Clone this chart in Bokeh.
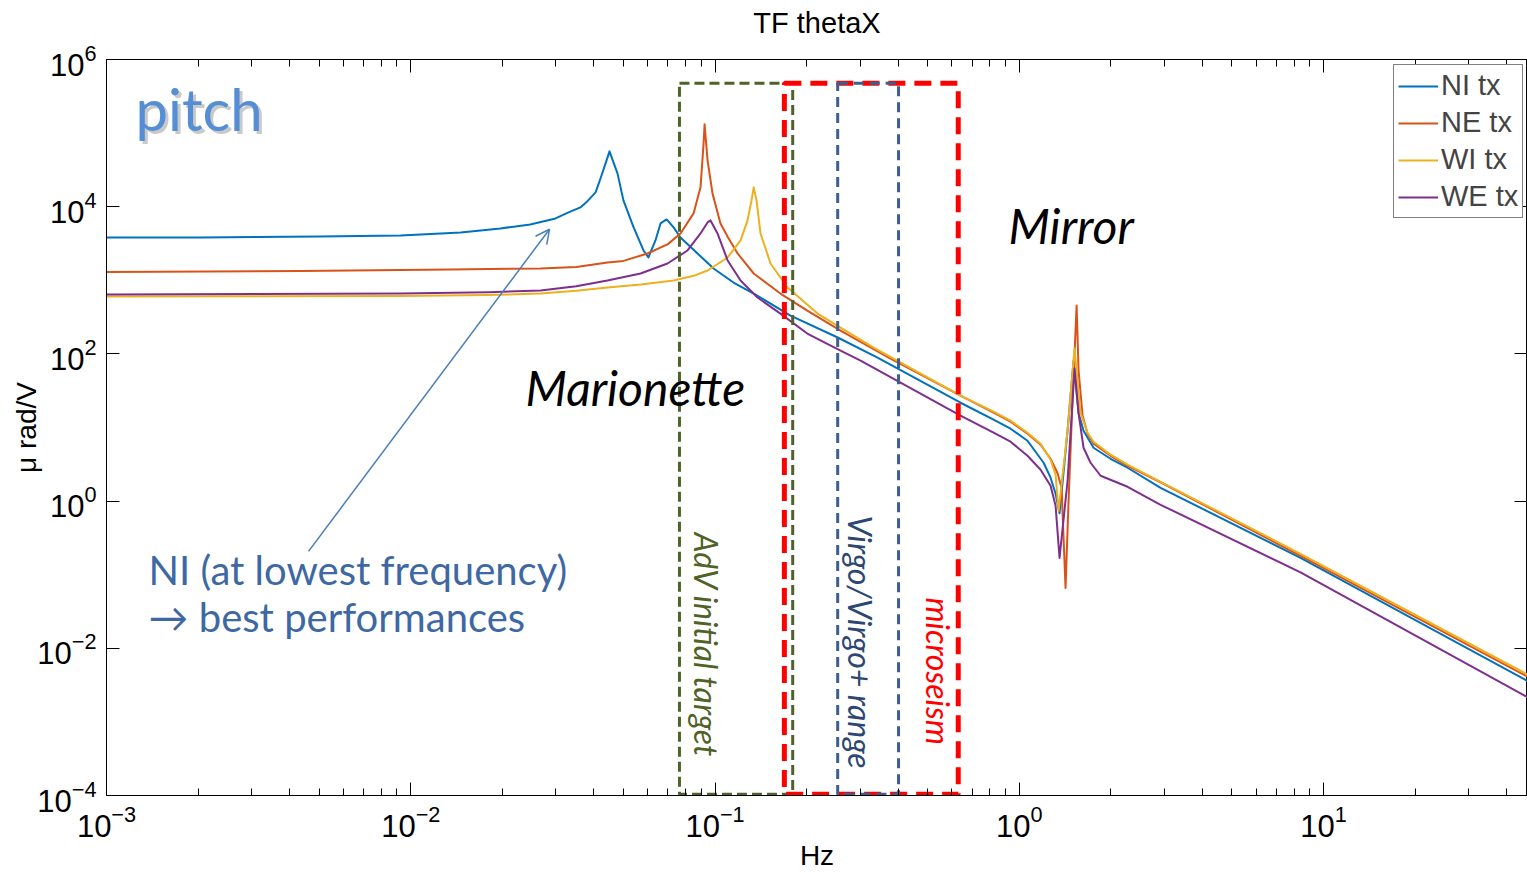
import math
from bokeh.plotting import figure
from bokeh.models import (LogAxis, FixedTicker, Label, Arrow, OpenHead, Legend, LegendItem)
from bokeh.embed import file_html
from bokeh.resources import INLINE

# ---------------- data ----------------
series_names = ["NI tx", "NE tx", "WI tx", "WE tx"]
series_colors = ["#0072BD", "#D95319", "#EDB120", "#7E2F8E"]

ni_f = [1e-3, 2.04e-3, 5.0e-3, 9.25e-3, 1.46e-2, 1.97e-2, 2.47e-2, 2.99e-2, 3.30e-2, 3.61e-2,
        3.80e-2, 4.05e-2, 4.20e-2, 4.40e-2, 4.50e-2, 4.65e-2, 4.78e-2, 5.00e-2, 5.40e-2, 5.82e-2,
        6.04e-2, 6.37e-2, 6.62e-2, 6.93e-2, 7.31e-2, 7.70e-2, 8.76e-2, 9.89e-2, 0.115, 0.134,
        0.177, 0.253, 0.342, 0.641, 0.823, 0.936, 1.064, 1.202, 1.267, 1.316,
        1.356, 1.441, 1.508, 1.566, 1.626, 1.754, 1.994, 2.269, 2.913, 8.40, 46.8]
ni_v = [3822, 3822, 3944, 4069, 4470, 5069, 5743, 6931, 8363, 9784,
        11800, 15650, 24000, 42650, 56540, 38800, 28390, 12180, 5229, 2543,
        2043, 3479, 5928, 6718, 5229, 3822, 2315, 1447, 933, 661,
        332, 167, 89.1, 21.7, 12.8, 9.63, 6.61, 3.32, 2.08, 1.257,
        0.682, 9.05, 81.1, 15.65, 9.05, 5.31, 3.76, 2.84, 1.517, 0.169, 3.59e-3]

ne_f = [1e-3, 4.34e-3, 1.35e-2, 2.67e-2, 3.50e-2, 4.43e-2, 5.00e-2, 6.00e-2, 7.00e-2, 7.70e-2,
        8.50e-2, 8.96e-2, 9.17e-2, 9.24e-2, 9.45e-2, 9.81e-2, 0.1042, 0.110, 0.1186, 0.134,
        0.164, 0.201, 0.2585, 0.3774, 0.641, 0.823, 0.936, 1.064, 1.175, 1.267,
        1.336, 1.377, 1.419, 1.452, 1.496, 1.543, 1.566, 1.614, 1.676, 1.754,
        1.994, 2.269, 2.913, 8.40, 46.8]
ne_v = [1297, 1338, 1403, 1447, 1514, 1747, 1834, 2315, 3100, 4331,
        8105, 18310, 72640, 131700, 42650, 15170, 5928, 3900, 2315, 1237,
        661, 388, 207.5, 86.3, 27.1, 15.9, 12.0, 8.23, 5.83, 3.76,
        2.39, 1.517, 0.0661, 1.025, 23.1, 454, 59.3, 14.5, 8.23, 6.02,
        4.13, 3.02, 1.803, 0.180, 4.13e-3]

wi_f = [1e-3, 9.25e-3, 1.8e-2, 2.67e-2, 3.5e-2, 4.43e-2, 5.7e-2, 7.31e-2, 8.5e-2, 9.45e-2,
        0.110, 0.1213, 0.1279, 0.1318, 0.134, 0.1369, 0.1411, 0.1522, 0.1731, 0.2173,
        0.2585, 0.332, 0.386, 0.641, 0.823, 0.936, 1.064, 1.175, 1.267, 1.316,
        1.346, 1.441, 1.519, 1.590, 1.676, 1.754, 1.994, 2.269, 2.913, 8.40, 46.8]
wi_v = [602, 611, 630, 661, 720, 798, 880, 994, 1150, 1359,
        2043, 3479, 6510, 12180, 18310, 12180, 4331, 1693, 798, 353,
        228, 121.8, 86.3, 27.1, 16.4, 12.4, 8.50, 6.02, 3.65, 2.28,
        0.738, 9.05, 118.1, 15.65, 8.50, 6.41, 4.27, 3.12, 1.830, 0.192, 4.40e-3]

we_f = [1e-3, 9.25e-3, 1.8e-2, 2.67e-2, 3.5e-2, 4.43e-2, 5.69e-2, 6.98e-2, 8.12e-2, 8.96e-2,
        9.45e-2, 9.665e-2, 0.1019, 0.110, 0.1213, 0.1379, 0.164, 0.201, 0.2585, 0.3008,
        0.641, 0.823, 0.936, 1.064, 1.175, 1.267, 1.316, 1.356, 1.441, 1.519,
        1.566, 1.626, 1.715, 1.850, 2.269, 2.913, 8.40, 46.8]
we_v = [641, 661, 690, 726, 830, 994, 1237, 1693, 2543, 4331,
        6114, 6510, 4331, 1859, 994, 583, 353, 188.9, 110.9, 81.1,
        14.5, 8.50, 6.41, 4.13, 2.67, 1.615, 0.863, 0.169, 1.889, 63.1,
        15.65, 5.31, 3.32, 2.21, 1.566, 0.891, 0.1075, 2.17e-3]

# frequency bands (Hz): AdV initial target, microseism, Virgo/Virgo+ range
band_labels = ["AdV initial target", "microseism", "Virgo/Virgo+ range"]
band_lo = [0.0764, 0.169, 0.253]
band_hi = [0.180, 0.630, 0.401]
band_top = [4.76e5, 4.76e5, 4.76e5]
band_bottom = [1.04e-4, 1.04e-4, 1.04e-4]

x_major = [1e-3, 1e-2, 1e-1, 1e0, 1e1]
y_major = [1e-4, 1e-2, 1e0, 1e2, 1e4, 1e6]

# ---------------- figure ----------------
X0, X1 = 1e-3, 46.8
Y0, Y1 = 1e-4, 1e6
FL, FR, FT, FB = 106, 1527, 59.3, 795


def fx(px):
    return 10 ** (math.log10(X0) + (px - FL) / (FR - FL) * math.log10(X1 / X0))


def fy(py):
    return 10 ** (math.log10(Y1) - (py - FT) / (FB - FT) * math.log10(Y1 / Y0))


p = figure(width=1527, height=874, x_axis_type="log", y_axis_type="log",
           x_range=(X0, X1), y_range=(Y0, Y1), output_backend="svg",
           toolbar_location=None, min_border_left=106, min_border_right=0,
           min_border_top=59, min_border_bottom=79)
p.grid.visible = False
p.outline_line_color = "black"
p.outline_line_width = 1
p.background_fill_color = "white"
p.border_fill_color = "white"

minor_x = [m * 10.0 ** e for e in range(-3, 2) for m in range(2, 10)]
FONT = "Liberation Sans"

for ax in p.xaxis:
    ax.ticker = FixedTicker(ticks=x_major, minor_ticks=minor_x)
for ax in p.yaxis:
    ax.ticker = FixedTicker(ticks=y_major, minor_ticks=[])

for ax in list(p.xaxis) + list(p.yaxis):
    ax.major_tick_in = 13
    ax.major_tick_out = 0
    ax.minor_tick_in = 7
    ax.minor_tick_out = 0
    ax.major_tick_line_color = "black"
    ax.minor_tick_line_color = "black"
    ax.axis_line_color = "black"
    ax.major_label_text_font = FONT
    ax.major_label_text_font_size = "31px"
    ax.major_label_text_color = "black"
    ax.axis_label_text_font = FONT
    ax.axis_label_text_font_size = "28px"
    ax.axis_label_text_font_style = "normal"
    ax.axis_label_text_color = "black"

p.xaxis.axis_label = "Hz"
p.yaxis.axis_label = "\u03bc rad/V"
p.xaxis.major_label_standoff = 9
p.xaxis.axis_label_standoff = 0
p.yaxis.major_label_standoff = 10
p.yaxis.axis_label_standoff = -8

# mirrored ticks on top and right; the top axis also carries the title text
top_ax = LogAxis(ticker=FixedTicker(ticks=x_major, minor_ticks=minor_x))
right_ax = LogAxis(ticker=FixedTicker(ticks=y_major, minor_ticks=[]))
for ax in (top_ax, right_ax):
    ax.major_tick_in = 13
    ax.major_tick_out = 0
    ax.minor_tick_in = 7
    ax.minor_tick_out = 0
    ax.major_label_text_font_size = "0px"
    ax.major_label_text_alpha = 0
    ax.major_label_standoff = 0
    ax.axis_line_color = "black"
top_ax.axis_label = "TF thetaX"
top_ax.axis_label_text_font = FONT
top_ax.axis_label_text_font_size = "29px"
top_ax.axis_label_text_font_style = "normal"
top_ax.axis_label_text_color = "black"
top_ax.axis_label_standoff = 21
p.add_layout(top_ax, "above")
p.add_layout(right_ax, "right")

# ---------------- curves ----------------
all_f = [ni_f, ne_f, wi_f, we_f]
all_v = [ni_v, ne_v, wi_v, we_v]
renderers = []
for f, v, c in zip(all_f, all_v, series_colors):
    r = p.line(x=f, y=v, line_color=c, line_width=2, line_join="round")
    renderers.append(r)

# ---------------- frequency bands ----------------
band_colors = ["#4F6228", "#FF0000", "#3B5F8E"]
band_widths = [3, 5, 3]
band_dash = ["10 5", "17 9", "10 6"]
for i in range(3):
    p.quad(left=[band_lo[i]], right=[band_hi[i]], top=[band_top[i]], bottom=[band_bottom[i]],
           fill_alpha=0, line_color=band_colors[i], line_width=band_widths[i],
           line_dash=band_dash[i])

# ---------------- legend ----------------
legend = Legend(items=[LegendItem(label=n, renderers=[r]) for n, r in zip(series_names, renderers)],
                location=(FR - FL - 134, 577), orientation="vertical",
                label_text_font=FONT, label_text_font_size="29px",
                glyph_width=40, glyph_height=30, label_height=30, spacing=4,
                padding=4, margin=0, label_standoff=3,
                border_line_color="black", border_line_width=1,
                background_fill_color="white", background_fill_alpha=1)
p.add_layout(legend)

# ---------------- annotations ----------------
TXT = "Lato"
p.add_layout(Label(x=fx(135), y=fy(108), text="pitch", text_font=TXT, text_font_size="58px",
                   text_baseline="alphabetic",
                   text_color="#9C9C9C", text_alpha=0.55, x_offset=3, y_offset=-3))
p.add_layout(Label(x=fx(135), y=fy(108), text="pitch", text_font=TXT, text_font_size="58px",
                   text_baseline="alphabetic", text_color="#558ED5"))

p.add_layout(Label(x=fx(525), y=fy(387), text="Marionette", text_font=TXT,
                   text_baseline="alphabetic",
                   text_font_size="48px", text_font_style="italic", text_color="black"))
p.add_layout(Label(x=fx(1008), y=fy(225), text="Mirror", text_font=TXT,
                   text_baseline="alphabetic",
                   text_font_size="48px", text_font_style="italic", text_color="black"))

p.add_layout(Label(x=fx(148), y=fy(570), text="NI (at lowest frequency)", text_font=TXT,
                   text_baseline="alphabetic", text_font_size="40px", text_color="#3E68A3"))
p.add_layout(Label(x=fx(148), y=fy(617), text="\u2192 best performances", text_font=TXT,
                   text_baseline="alphabetic", text_font_size="40px", text_color="#3E68A3"))

rot = -math.pi / 2
p.add_layout(Label(x=fx(706), y=fy(532), text="AdV initial target", text_font=TXT,
                   text_font_size="32px", text_font_style="italic", text_color="#4F6228",
                   angle=rot, text_baseline="middle", text_align="left"))
p.add_layout(Label(x=fx(860), y=fy(515), text="Virgo/Virgo+ range", text_font=TXT,
                   text_font_size="32px", text_font_style="italic", text_color="#2C4772",
                   angle=rot, text_baseline="middle", text_align="left"))
p.add_layout(Label(x=fx(938), y=fy(597), text="microseism", text_font=TXT,
                   text_font_size="32px", text_font_style="italic", text_color="#FF0000",
                   angle=rot, text_baseline="middle", text_align="left"))

p.add_layout(Arrow(end=OpenHead(size=14, line_color="#4A7EBB", line_width=1.5),
                   x_start=fx(308), y_start=fy(551), x_end=fx(549), y_end=fy(229),
                   line_color="#4A7EBB", line_width=1.5))

open("out.html", "w").write(file_html(p, INLINE))
